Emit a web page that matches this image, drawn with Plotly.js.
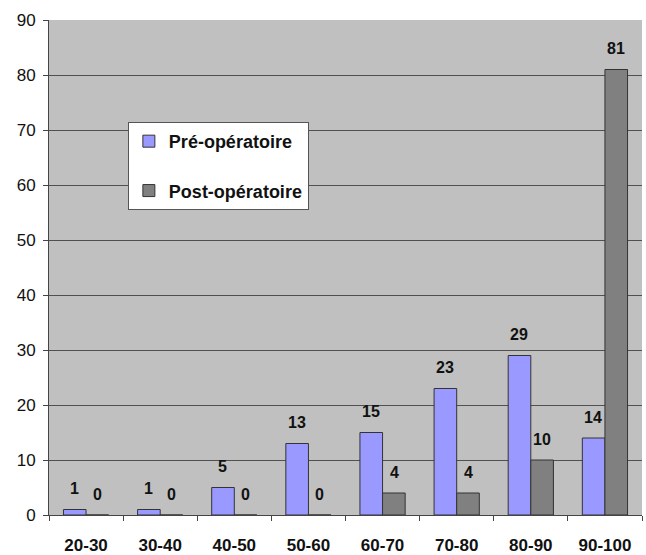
<!DOCTYPE html>
<html>
<head>
<meta charset="utf-8">
<script src="https://cdn.plot.ly/plotly-3.0.1.min.js"></script>
<style>
  html, body { margin: 0; padding: 0; background: #ffffff; }
  #chart { width: 646px; height: 555px; }
</style>
</head>
<body>
<div id="chart"></div>
<script>
// Score ranges and patient counts before / after surgery
const categories = ['20-30', '30-40', '40-50', '50-60', '60-70', '70-80', '80-90', '90-100'];
const preOp = [1, 1, 5, 13, 15, 23, 29, 14];
const postOp = [0, 0, 0, 0, 4, 4, 10, 81];
const seriesNames = ['Pré-opératoire', 'Post-opératoire'];
const yTicks = [0, 10, 20, 30, 40, 50, 60, 70, 80, 90];

const FONT = 'Liberation Sans, Arial, sans-serif';

const traces = [
  {
    type: 'bar', name: seriesNames[0], x: categories, y: preOp,
    marker: { color: '#9999ff', line: { color: '#333333', width: 1 } },
    legendgroup: 'a'
  },
  {
    type: 'bar', name: seriesNames[1], x: categories, y: postOp,
    marker: { color: '#808080', line: { color: '#333333', width: 1 } },
    legendgroup: 'b'
  }
];

// Value labels above each bar, offset left/right to sit over its own bar
const annotations = [];
[preOp, postOp].forEach((vals, s) => {
  vals.forEach((v, i) => {
    annotations.push({
      x: categories[i], y: v, xref: 'x', yref: 'y',
      text: '<b>' + v + '</b>', showarrow: false,
      xshift: s === 0 ? -11.5 : 11.5, yshift: 21, yanchor: 'middle',
      font: { family: FONT, size: 16, color: '#111111' }
    });
  });
});

const layout = {
  width: 646, height: 555,
  margin: { l: 49, r: 4, t: 20, b: 40 },
  paper_bgcolor: '#ffffff',
  plot_bgcolor: '#c0c0c0',
  barmode: 'group',
  bargap: 0.39,
  bargroupgap: 0,
  showlegend: true,
  legend: {
    x: 0.133, y: 0.794, xanchor: 'left', yanchor: 'top',
    bgcolor: '#ffffff', bordercolor: '#555555', borderwidth: 1,
    font: { family: FONT, size: 18, color: '#111111', weight: 'bold' },
    traceorder: 'grouped', tracegroupgap: 23,
    itemwidth: 30,
    entrywidth: 169
  },
  xaxis: {
    type: 'category',
    showline: true, linecolor: '#444444', linewidth: 1,
    ticks: 'outside', tickson: 'boundaries', ticklen: 5, tickcolor: '#444444',
    ticklabelstandoff: 15,
    tickfont: { family: FONT, size: 17, color: '#111111', weight: 'bold' },
    showgrid: false, fixedrange: true
  },
  yaxis: {
    range: [0, 90], tickvals: yTicks, ticktext: yTicks.map(String),
    showline: true, linecolor: '#444444', linewidth: 1,
    ticks: 'outside', ticklen: 5, tickcolor: '#444444',
    ticklabelstandoff: 4,
    showgrid: true, gridcolor: '#505050', gridwidth: 1,
    zeroline: false,
    tickfont: { family: FONT, size: 17, color: '#111111' },
    fixedrange: true
  },
  annotations: annotations
};

Plotly.newPlot('chart', traces, layout, { displayModeBar: false, staticPlot: true });
</script>
</body>
</html>
